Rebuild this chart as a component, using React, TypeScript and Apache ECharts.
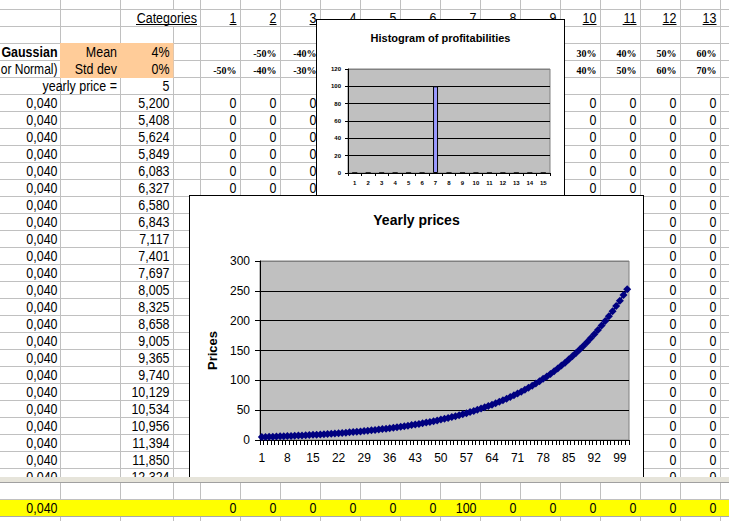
import React, { useEffect, useRef } from "react";
import * as echarts from "echarts";

const SANS = "'Liberation Sans', Arial, Helvetica, sans-serif";
const SERIF = "'Liberation Serif', 'Times New Roman', serif";

// ---------------- data ----------------
const categoryHeaders = ["1", "2", "3", "4", "5", "6", "7", "8", "9", "10", "11", "12", "13"];
const meanRowRanges = ["", "-50%", "-40%", "-30%", "-20%", "-10%", "0%", "10%", "20%", "30%", "40%", "50%", "60%"];
const stdRowRanges = ["-50%", "-40%", "-30%", "-20%", "-10%", "0%", "10%", "20%", "30%", "40%", "50%", "60%", "70%"];
const paramNames = ["Mean", "Std dev"];
const paramValues = ["4%", "0%"];
const initialPriceLabel = "yearly price =";
const initialPrice = "5";
const yearlyRate = "0,040";
const rowCounts = [0, 0, 0, 0, 0, 0, 1, 0, 0, 0, 0, 0, 0];
const bottomTotals = [0, 0, 0, 0, 0, 0, 100, 0, 0, 0, 0, 0, 0];

const histogramCategories = ["1", "2", "3", "4", "5", "6", "7", "8", "9", "10", "11", "12", "13", "14", "15"];
const histogramCounts = [0, 0, 0, 0, 0, 0, 100, 0, 0, 0, 0, 0, 0, 0, 0];

const yearlyPrices = [
  5.0, 5.2, 5.408, 5.624, 5.849, 6.083, 6.327, 6.58, 6.843, 7.117,
  7.401, 7.697, 8.005, 8.325, 8.658, 9.005, 9.365, 9.74, 10.129, 10.534,
  10.956, 11.394, 11.85, 12.324, 12.817, 13.329, 13.862, 14.417, 14.994, 15.593,
  16.217, 16.866, 17.54, 18.242, 18.972, 19.73, 20.52, 21.34, 22.194, 23.082,
  24.005, 24.965, 25.964, 27.002, 28.083, 29.206, 30.374, 31.589, 32.853, 34.167,
  35.533, 36.955, 38.433, 39.97, 41.569, 43.232, 44.961, 46.76, 48.63, 50.575,
  52.598, 54.702, 56.89, 59.166, 61.532, 63.994, 66.553, 69.216, 71.984, 74.864,
  77.858, 80.972, 84.211, 87.58, 91.083, 94.726, 98.515, 102.456, 106.554, 110.816,
  115.249, 119.859, 124.653, 129.639, 134.825, 140.218, 145.827, 151.66, 157.726, 164.035,
  170.597, 177.421, 184.517, 191.898, 199.574, 207.557, 215.859, 224.494, 233.473, 242.812,
  252.525,
];
const yearLabels = yearlyPrices.map((_, i) => String(i + 1));
const tablePriceRows = yearlyPrices.slice(1, 24).map((v) => v.toFixed(3).replace(".", ","));

// ---------------- sheet layout ----------------
const W = 729;
const H = 521;
const ROW_TOP0 = 9.5;
const ROW_H = 17;
const FS = 14.5;
const SX = 0.86;
const GRID = "#C0C0C0";
const rowTop = (k: number) => ROW_TOP0 + ROW_H * k;
const rowMid = (k: number) => rowTop(k) + 9;
const colRight = (c: number) => 200.5 + 40 * c - 4; // c = 1..13
const vLines = [60.5, 120.5, 173.5, 200.5, ...Array.from({ length: 13 }, (_, i) => 240.5 + 40 * i)];

function txt(text: string, x: number, y: number, opt: any = {}) {
  const size = opt.size ?? FS;
  const weight = opt.weight ?? "normal";
  const family = opt.family ?? SANS;
  return {
    type: "text",
    x,
    y,
    scaleX: opt.sx ?? SX,
    z: opt.z ?? 10,
    style: {
      text,
      fill: "#000",
      font: `${weight} ${size}px ${family}`,
      textAlign: opt.align ?? "right",
      align: opt.align ?? "right",
      textVerticalAlign: "middle",
      verticalAlign: "middle",
    },
  };
}
function hline(y: number, x1: number, x2: number, color = GRID, z = 1) {
  return { type: "line", z, shape: { x1, y1: y, x2, y2: y }, style: { stroke: color, lineWidth: 1 } };
}
function vline(x: number, y1: number, y2: number, color = GRID, z = 1) {
  return { type: "line", z, shape: { x1: x, y1, x2: x, y2 }, style: { stroke: color, lineWidth: 1 } };
}

function buildSheet() {
  const els: any[] = [];
  els.push({ type: "rect", z: 0, shape: { x: 0, y: 0, width: W, height: H }, style: { fill: "#fff" } });
  for (let k = 0; k <= 28; k++) els.push(hline(rowTop(k), 0, W));
  vLines.forEach((x) => {
    if (x === 173.5) {
      els.push(vline(x, 0, rowTop(0)));
      els.push(vline(x, rowTop(1), H));
    } else {
      els.push(vline(x, 0, H));
    }
  });
  // orange parameter block
  els.push({ type: "rect", z: 3, shape: { x: 60, y: 43, width: 113.5, height: 35 }, style: { fill: "#FFCC99" } });

  // header row
  els.push(txt("Categories", 197, rowMid(0)));
  els.push(hline(24.5, 136, 197, "#000", 10));
  categoryHeaders.forEach((h, i) => {
    const r = colRight(i + 1);
    els.push(txt(h, r, rowMid(0)));
    const w = h.length * 0.556 * FS * SX;
    els.push(hline(24.5, r - w, r, "#000", 10));
  });

  // parameter rows
  els.push(txt("Gaussian", 57.5, rowMid(2), { weight: "bold" }));
  els.push(txt("or Normal)", 57.5, rowMid(3), { sx: 0.83 }));
  paramNames.forEach((n, i) => {
    els.push(txt(n, 117, rowMid(2 + i)));
    els.push(txt(paramValues[i], 169.5, rowMid(2 + i)));
  });
  const pctCols = [1, 2, 3, 10, 11, 12, 13];
  pctCols.forEach((c) => {
    const m = meanRowRanges[c - 1];
    if (m) els.push(txt(m, colRight(c), rowMid(2) + 1, { family: SERIF, weight: "bold", size: 10, sx: 1 }));
    els.push(txt(stdRowRanges[c - 1], colRight(c), rowMid(3) + 1, { family: SERIF, weight: "bold", size: 10, sx: 1 }));
  });
  els.push(txt(initialPriceLabel, 117, rowMid(4)));
  els.push(txt(initialPrice, 169.5, rowMid(4)));

  // data rows
  tablePriceRows.forEach((p, r) => {
    const k = 5 + r;
    els.push(txt(yearlyRate, 57.5, rowMid(k)));
    els.push(txt(p, 169.5, rowMid(k)));
    const cols = k <= 10 ? [1, 2, 3, 10, 11, 12, 13] : [12, 13];
    cols.forEach((c) => els.push(txt(String(rowCounts[c - 1]), colRight(c), rowMid(k))));
  });
  return { animation: false, graphic: { elements: els } };
}

function buildBottom() {
  const els: any[] = [];
  const T = 477;
  els.push({ type: "rect", z: 0, shape: { x: 0, y: 0, width: W, height: 44 }, style: { fill: "#fff" } });
  vLines.forEach((x) => els.push(vline(x, 0, 44)));
  els.push(hline(499.5 - T, 0, W));
  els.push({ type: "rect", z: 3, shape: { x: 0, y: 500 - T, width: W, height: 16 }, style: { fill: "#FFFF00" } });
  els.push(hline(516.5 - T, 0, W, "#A8A8A8", 4));
  els.push({ type: "rect", z: 5, shape: { x: 0, y: 0, width: W, height: 5.5 }, style: { fill: "#E6E4DA" } });
  els.push(hline(5.5, 0, W, "#A0A0A0", 6));
  els.push(txt(yearlyRate, 57.5, 508.5 - T));
  bottomTotals.forEach((v, i) => els.push(txt(String(v), colRight(i + 1), 508.5 - T)));
  return { animation: false, graphic: { elements: els } };
}

const axisText = { color: "#000", fontFamily: SANS };

function buildHistogram() {
  return {
    animation: false,
    title: {
      text: "Histogram of profitabilities",
      left: "center",
      top: 12,
      padding: 0,
      textStyle: { fontSize: 11, fontWeight: "bold", fontFamily: SANS, color: "#000" },
    },
    grid: {
      left: 31, top: 49, width: 202, height: 104,
      show: true, backgroundColor: "#C0C0C0", borderColor: "#808080", borderWidth: 1,
    },
    xAxis: {
      type: "category",
      data: histogramCategories,
      axisLine: { lineStyle: { color: "#000", width: 1 } },
      axisTick: { show: true, length: 3, interval: 0, lineStyle: { color: "#000" } },
      axisLabel: { ...axisText, fontSize: 6, fontWeight: "bold", margin: 7, interval: 0 },
      splitLine: { show: false },
    },
    yAxis: {
      type: "value", min: 0, max: 120, interval: 20,
      axisLine: { show: true, lineStyle: { color: "#000", width: 1 } },
      axisTick: { show: true, length: 3, lineStyle: { color: "#000" } },
      axisLabel: { ...axisText, fontSize: 6, fontWeight: "bold", margin: 7 },
      splitLine: { show: true, lineStyle: { color: ["#000", "#000", "#000", "#000", "#000", "#000", "#808080"], width: 1 } },
    },
    series: [
      {
        type: "bar",
        data: histogramCounts,
        barWidth: 5,
        itemStyle: { color: "#9999FF", borderColor: "#000", borderWidth: 1 },
      },
    ],
  };
}

function buildYearly() {
  return {
    animation: false,
    title: {
      text: "Yearly prices",
      left: "center",
      top: 17,
      padding: 0,
      textStyle: { fontSize: 14, fontWeight: "bold", fontFamily: SANS, color: "#000" },
    },
    grid: {
      left: 70, top: 65, width: 369, height: 179,
      show: true, backgroundColor: "#C0C0C0", borderColor: "#808080", borderWidth: 1,
    },
    xAxis: {
      type: "category",
      data: yearLabels,
      boundaryGap: true,
      axisLine: { lineStyle: { color: "#000", width: 1 } },
      axisTick: { show: true, length: 5, interval: 0, lineStyle: { color: "#000" } },
      axisLabel: { ...axisText, fontSize: 12, margin: 12, interval: 6 },
      splitLine: { show: false },
    },
    yAxis: {
      type: "value", min: 0, max: 300, interval: 50,
      name: "Prices",
      nameLocation: "middle",
      nameRotate: 90,
      nameGap: 38,
      nameTextStyle: { fontSize: 13, fontWeight: "bold", color: "#000", fontFamily: SANS },
      axisLine: { show: true, lineStyle: { color: "#000", width: 1 } },
      axisTick: { show: true, length: 5, lineStyle: { color: "#000" } },
      axisLabel: { ...axisText, fontSize: 12, margin: 10 },
      splitLine: { show: true, lineStyle: { color: ["#000", "#000", "#000", "#000", "#000", "#000", "#808080"], width: 1 } },
    },
    series: [
      {
        type: "line",
        data: yearlyPrices,
        symbol: "diamond",
        symbolSize: 8,
        showAllSymbol: true,
        lineStyle: { color: "#000080", width: 1.5 },
        itemStyle: { color: "#000080" },
      },
    ],
  };
}

function EChart({ option, width, height }: { option: any; width: number; height: number }) {
  const ref = useRef<HTMLDivElement>(null);
  useEffect(() => {
    if (!ref.current) return;
    const chart = echarts.init(ref.current, undefined, { renderer: "svg" });
    chart.setOption(option);
    return () => chart.dispose();
  }, [option]);
  return <div ref={ref} style={{ width, height }} />;
}

const sheetOption = buildSheet();
const bottomOption = buildBottom();
const histOption = buildHistogram();
const yearlyOption = buildYearly();

export default function App() {
  return (
    <div style={{ position: "fixed", left: 0, top: 0, width: W, height: H, overflow: "hidden", background: "#fff" }}>
      <div style={{ position: "absolute", left: 0, top: 0 }}>
        <EChart option={sheetOption} width={W} height={H} />
      </div>
      <div
        style={{
          position: "absolute", left: 316, top: 19, width: 249, height: 180,
          border: "1px solid #000", boxSizing: "border-box", background: "#fff",
        }}
      >
        <EChart option={histOption} width={247} height={178} />
      </div>
      <div style={{ position: "absolute", left: 189, top: 195, width: 455, height: 282, overflow: "hidden" }}>
        <div style={{ width: 455, height: 330, border: "1px solid #000", boxSizing: "border-box", background: "#fff" }}>
          <EChart option={yearlyOption} width={453} height={328} />
        </div>
      </div>
      <div style={{ position: "absolute", left: 0, top: 477 }}>
        <EChart option={bottomOption} width={W} height={44} />
      </div>
    </div>
  );
}
